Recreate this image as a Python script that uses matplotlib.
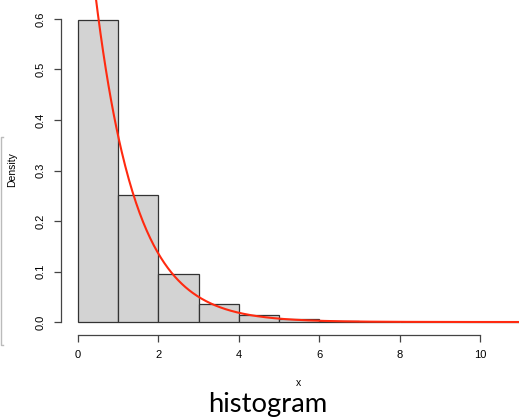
import numpy as np
import matplotlib
matplotlib.use('Agg')
import matplotlib.pyplot as plt
from matplotlib.lines import Line2D

# histogram of x (density scale), bins of width 1
bin_edges = [0, 1, 2, 3, 4, 5, 6, 7, 8, 9, 10, 11]
density = [0.598, 0.2515, 0.095, 0.0356, 0.014, 0.005, 0.002, 0.0008, 0.0004, 0.0002, 0.0001]
rate = 1.0  # overlaid dexp(x, rate)
x_ticks = [0, 2, 4, 6, 8, 10]
y_ticks = [0.0, 0.1, 0.2, 0.3, 0.4, 0.5, 0.6]

plt.rcParams['font.family'] = ['Liberation Sans', 'DejaVu Sans']

fig = plt.figure(figsize=(5.19, 4.19), dpi=100)
ax = fig.add_axes([61/519, (419-335)/419, 1 - 61/519, 335/419])

left = bin_edges[:-1]
ax.bar(left, density, width=1, align='edge', color='#d3d3d3',
       edgecolor='#333333', linewidth=0.9)

xs = np.linspace(0.01, 11, 500)
ax.plot(xs, rate*np.exp(-rate*xs), color='#ff2a10', lw=1.5)

ax.set_xlim(-0.423, 10.97)
ax.set_ylim(-0.0257, 0.6376)

for s in ['top', 'right']:
    ax.spines[s].set_visible(False)
ax.spines['left'].set_bounds(0, 0.6)
ax.spines['bottom'].set_bounds(0, 10)
for s in ['left', 'bottom']:
    ax.spines[s].set_color('#444444')
    ax.spines[s].set_linewidth(0.9)

ax.set_xticks(x_ticks)
ax.set_yticks(y_ticks)
ax.set_yticklabels(['%.1f' % v for v in y_ticks], rotation=90, va='center')
ax.tick_params(direction='out', length=5, width=0.9, color='#444444',
               labelsize=8, pad=6)

fig.text(12/519, 1 - 170/419, 'Density', rotation=90, ha='center', va='center', fontsize=7.5)
fig.text(299/519, 1 - 383/419, 'x', ha='center', va='center', fontsize=7.5)
fig.text(268/519, 1 - 404/419, 'histogram', ha='center', va='center', fontsize=19.7,
         family=['Lato', 'DejaVu Sans'])

# leftover bracket at the left edge
fig.add_artist(Line2D([3/519, 1/519, 1/519, 3/519],
                      [1 - 137/419, 1 - 137/419, 1 - 345/419, 1 - 345/419],
                      color='#bbbbbb', lw=1))

plt.savefig('out.png', dpi=100)
